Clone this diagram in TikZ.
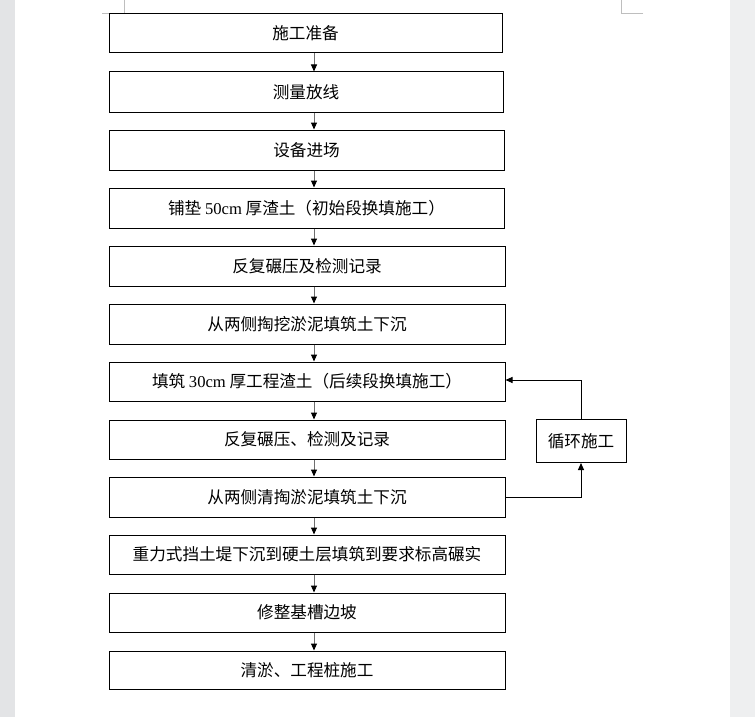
\documentclass[tikz,border=0pt]{standalone}
\usepackage{fontspec}
\setmainfont{Liberation Serif}
\newfontfamily\cjk{Noto Sans CJK SC}
\newfontfamily\lat{Liberation Serif}
\usetikzlibrary{arrows.meta}
\definecolor{pagegrayL}{RGB}{227,228,230}
\definecolor{pagegrayR}{RGB}{238,239,240}
\definecolor{markgray}{RGB}{190,190,190}
\definecolor{shaft}{RGB}{110,110,110}
\tikzset{
  stepbox/.style={draw=black,line width=1pt,inner sep=0pt,minimum height=39pt,
    font=\cjk\fontsize{16.6}{19}\selectfont,text=black},
  arr/.style={draw=shaft,line width=1pt,-{Triangle[length=7pt,width=6pt,color=black]}},
  sidearr/.style={draw=black,line width=1pt,-{Triangle[length=7pt,width=6pt,color=black]}},
  cornermark/.style={draw=markgray,line width=0.8pt}
}
\begin{document}
\begin{tikzpicture}[x=1pt,y=-1pt]
\useasboundingbox (0,0) rectangle (755,717);
\fill[pagegrayL] (0,0) rectangle (15,717);
\fill[pagegrayR] (730,0) rectangle (755,717);
\fill[white] (15,0) rectangle (730,717);
% corner marks
\draw[cornermark] (102,13) -- (124,13) -- (124,0);
\draw[cornermark] (643,13) -- (621,13) -- (621,0);

\node[stepbox,minimum width=393pt,minimum height=39pt] (b1) at (305.5,33.5) {施工准备};
\node[stepbox,minimum width=394pt,minimum height=40pt] (b2) at (306,92) {测量放线};
\node[stepbox,minimum width=395pt,minimum height=40pt] (b3) at (306.5,150) {设备进场};
\node[stepbox,minimum width=395pt,minimum height=40pt] (b4) at (306.5,208) {铺垫 {\lat 50cm} 厚渣土（初始段换填施工）};
\node[stepbox,minimum width=396pt,minimum height=40pt] (b5) at (307,266) {反复碾压及检测记录};
\node[stepbox,minimum width=396pt,minimum height=40pt] (b6) at (307,324) {从两侧掏挖淤泥填筑土下沉};
\node[stepbox,minimum width=396pt,minimum height=39pt] (b7) at (307,381.5) {填筑 {\lat 30cm} 厚工程渣土（后续段换填施工）};
\node[stepbox,minimum width=396pt,minimum height=39pt] (b8) at (307,439.5) {反复碾压、检测及记录};
\node[stepbox,minimum width=396pt,minimum height=40pt] (b9) at (307,497) {从两侧清掏淤泥填筑土下沉};
\node[stepbox,minimum width=396pt,minimum height=39pt] (b10) at (307,554.5) {重力式挡土堤下沉到硬土层填筑到要求标高碾实};
\node[stepbox,minimum width=396pt,minimum height=39pt] (b11) at (307,612.5) {修整基槽边坡};
\node[stepbox,minimum width=396pt,minimum height=38pt] (b12) at (307,670) {清淤、工程桩施工};
\node[stepbox,minimum width=90pt,minimum height=43pt] (s) at (581,441) {循环施工};

\coordinate (ax) at (314,0);
\foreach \a/\b in {b1/b2,b2/b3,b3/b4,b4/b5,b5/b6,b6/b7,b7/b8,b8/b9,b9/b10,b10/b11,b11/b12}{
  \draw[arr] (\a.south -| ax) -- (\b.north -| ax);
}
\draw[sidearr] (b9.east) -- (b9.east -| s.south) -- (s.south);
\coordinate (top) at (581,380);
\draw[sidearr] (s.north) -- (top) -- (top -| b7.east);
\end{tikzpicture}
\end{document}
